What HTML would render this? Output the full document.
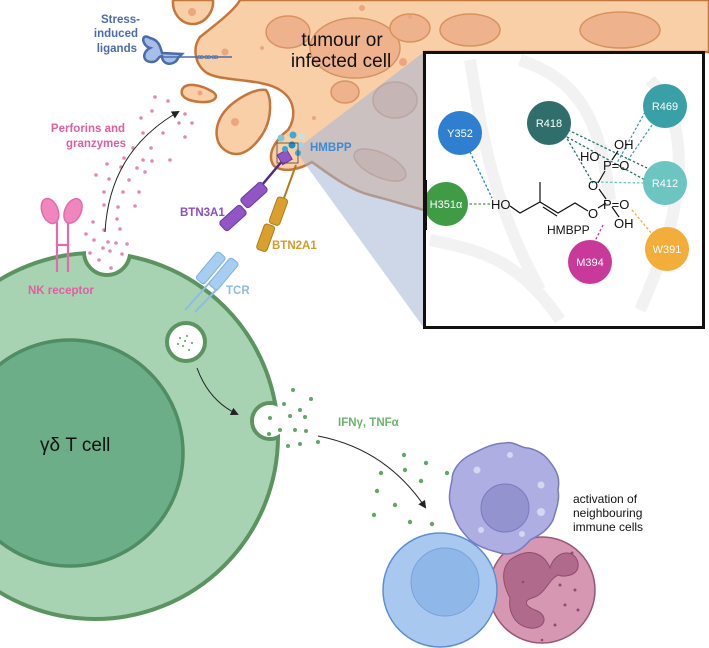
<!DOCTYPE html>
<html><head><meta charset="utf-8"><style>
html,body{margin:0;padding:0;background:#fff}
svg{display:block}
text{font-family:"Liberation Sans",sans-serif}
</style></head><body>
<svg width="709" height="648" viewBox="0 0 709 648" xmlns="http://www.w3.org/2000/svg">
<defs>
<marker id="ah" markerWidth="8" markerHeight="8" refX="6" refY="4" orient="auto" markerUnits="userSpaceOnUse"><path d="M0,0 L8,4 L0,8 Z" fill="#222"/></marker>
<clipPath id="cellclip"><circle cx="95" cy="436" r="185"/></clipPath>
</defs>

<!-- tumour cell -->
<g stroke="#c4773d" stroke-width="2.5" fill="#f8cfa6">
<path d="M173,0 C172,12 180,25 195,24 C207,22 214,10 213,0 Z"/>
<path d="M240,0 C235,10 215,25 200,37 C192,48 195,65 207,73 C222,82 262,78 280,90 C296,100 296,118 288,130 C275,140 266,155 274,166 C285,174 302,168 312,162 C330,175 350,190 370,195 C390,200 405,205 424,210 L424,52 L709,52 L709,0 Z"/>
<path d="M182,90 C185,82 200,84 213,92 C220,97 214,103 200,102 C188,101 180,97 182,90 Z"/>
<path d="M266,90 C272,98 272,120 262,135 C252,150 240,158 228,152 C214,145 214,128 222,115 C232,100 255,88 266,90 Z"/>
</g>
<g fill="#eeb38c" stroke="#d8925f" stroke-width="1.5">
<ellipse cx="288" cy="32" rx="22" ry="16"/>
<ellipse cx="355" cy="48" rx="45" ry="30"/>
<ellipse cx="345" cy="92" rx="14" ry="11"/>
<ellipse cx="410" cy="28" rx="20" ry="14"/>
<ellipse cx="470" cy="30" rx="30" ry="16"/>
<ellipse cx="620" cy="30" rx="40" ry="18"/>
<ellipse cx="395" cy="100" rx="22" ry="18"/>
<ellipse cx="380" cy="165" rx="28" ry="12" transform="rotate(25 380 165)"/>
</g>
<g fill="#eba67e">
<circle cx="192" cy="12" r="4"/><circle cx="225" cy="52" r="3.5"/><circle cx="235" cy="122" r="4"/>
<circle cx="262" cy="48" r="2"/><circle cx="314" cy="118" r="2"/><circle cx="362" cy="8" r="3"/><circle cx="410" cy="17" r="2"/><circle cx="403" cy="62" r="4"/>
<circle cx="200" cy="93" r="2.5"/>
</g>
<text x="342" y="46" font-size="19" fill="#111" text-anchor="middle">tumour or</text>
<text x="341" y="67" font-size="19" fill="#111" text-anchor="middle">infected cell</text>

<!-- wedge -->
<polygon points="295,150 424,52 424,328" fill="#a4b6d6" fill-opacity="0.55"/>

<!-- stress ligands -->
<text x="140" y="23" font-size="11.5" font-weight="bold" fill="#4a6cae" text-anchor="end">Stress-</text>
<text x="138" y="37" font-size="11.5" font-weight="bold" fill="#4a6cae" text-anchor="end">induced</text>
<text x="137" y="52" font-size="11.5" font-weight="bold" fill="#4a6cae" text-anchor="end">ligands</text>
<g fill="#a7bfe6" stroke="#4a6cae" stroke-width="2.5">
<path d="M150,38 C140,32 142,46 150,48 C142,52 142,62 152,62 C158,62 158,56 162,56 C162,66 175,66 178,58 L182,54 L162,53 C160,45 158,40 150,38 Z"/>
</g>
<line x1="158" y1="57" x2="232" y2="57" stroke="#4a6cae" stroke-width="1.5"/>
<text x="197" y="59" font-size="7" fill="#4a6cae">ꝏꝏꝏ</text>

<!-- T cell -->
<circle cx="95" cy="436" r="183" fill="#a8d3b3" stroke="#5b9460" stroke-width="4"/>
<circle cx="70" cy="453" r="113" fill="#6cae88" stroke="#4f8d62" stroke-width="3.5"/>
<g clip-path="url(#cellclip)">
<circle cx="107" cy="252" r="23" fill="#fff" stroke="#5b9460" stroke-width="4"/>
<circle cx="270" cy="421" r="18" fill="#fff" stroke="#5b9460" stroke-width="4"/>
</g>
<circle cx="107" cy="252" r="21" fill="#fff"/>
<circle cx="270" cy="421" r="16" fill="#fff"/>
<circle cx="186" cy="342" r="19" fill="#fff" stroke="#5b9460" stroke-width="4"/>
<g fill="#5a9a64"><circle cx="180" cy="338" r="1"/><circle cx="187" cy="336" r="1"/><circle cx="192" cy="343" r="1"/><circle cx="183" cy="346" r="1"/><circle cx="189" cy="350" r="1"/><circle cx="178" cy="344" r="1"/><circle cx="185" cy="341" r="1"/></g>
<text x="40" y="451" font-size="19" fill="#111">γδ T cell</text>

<!-- NK receptor -->
<g stroke="#e46aa8" stroke-width="2.2" fill="none">
<line x1="57" y1="222" x2="57" y2="272"/><line x1="68" y1="222" x2="68" y2="272"/><line x1="57" y1="245" x2="68" y2="245"/>
</g>
<g fill="#ef86bd" stroke="#e46aa8" stroke-width="1.5">
<ellipse cx="50" cy="211" rx="8" ry="13" transform="rotate(-20 50 211)"/>
<ellipse cx="73" cy="211" rx="8" ry="13" transform="rotate(25 73 211)"/>
</g>
<text x="28" y="294" font-size="11.5" font-weight="bold" fill="#e05fa0">NK receptor</text>
<text x="88" y="132" font-size="11.5" font-weight="bold" fill="#e05fa0" text-anchor="middle">Perforins and</text>
<text x="96" y="147" font-size="11.5" font-weight="bold" fill="#e05fa0" text-anchor="middle">granzymes</text>
<g fill="#e089b5">
<circle cx="155" cy="97" r="1.8"/><circle cx="168" cy="101" r="1.8"/><circle cx="152" cy="111" r="1.8"/><circle cx="185" cy="114" r="1.8"/><circle cx="192" cy="123" r="1.8"/><circle cx="179" cy="123" r="1.8"/><circle cx="185" cy="137" r="1.8"/><circle cx="141" cy="118" r="1.8"/><circle cx="143" cy="133" r="1.8"/><circle cx="163" cy="133" r="1.8"/><circle cx="133" cy="148" r="1.8"/><circle cx="151" cy="148" r="1.8"/><circle cx="124" cy="158" r="1.8"/><circle cx="143" cy="160" r="1.8"/><circle cx="152" cy="161" r="1.8"/><circle cx="170" cy="160" r="1.8"/><circle cx="107" cy="164" r="1.8"/><circle cx="121" cy="167" r="1.8"/><circle cx="137" cy="168" r="1.8"/><circle cx="145" cy="172" r="1.8"/><circle cx="96" cy="175" r="1.8"/><circle cx="109" cy="179" r="1.8"/><circle cx="129" cy="180" r="1.8"/><circle cx="104" cy="192" r="1.8"/><circle cx="123" cy="192" r="1.8"/><circle cx="139" cy="192" r="1.8"/><circle cx="104" cy="205" r="1.8"/><circle cx="118" cy="207" r="1.8"/><circle cx="135" cy="206" r="1.8"/><circle cx="117" cy="219" r="1.8"/><circle cx="93" cy="222" r="1.8"/><circle cx="86" cy="234" r="1.8"/><circle cx="104" cy="230" r="1.8"/><circle cx="120" cy="229" r="1.8"/><circle cx="94" cy="240" r="1.8"/><circle cx="108" cy="242" r="1.8"/><circle cx="116" cy="243" r="1.8"/><circle cx="127" cy="244" r="1.8"/><circle cx="103" cy="248" r="1.8"/><circle cx="110" cy="251" r="1.8"/><circle cx="90" cy="253" r="1.8"/><circle cx="122" cy="254" r="1.8"/><circle cx="99" cy="260" r="1.8"/><circle cx="111" cy="268" r="1.8"/>
</g>
<path d="M105,232 C108,180 130,140 178,112" fill="none" stroke="#222" stroke-width="1" marker-end="url(#ah)"/>

<!-- TCR -->
<g stroke="#8bbbe8" stroke-width="2" fill="none">
<line x1="185" y1="310" x2="212" y2="280"/><line x1="195" y1="312" x2="222" y2="284"/>
</g>
<g fill="#a7cdf1" stroke="#7fb0e2" stroke-width="1">
<rect x="205" y="250" width="11" height="35" rx="3" transform="rotate(40 210 268)"/>
<rect x="218" y="256" width="11" height="35" rx="3" transform="rotate(40 223 274)"/>
</g>
<text x="226" y="294" font-size="11.5" font-weight="bold" fill="#8bbbe8">TCR</text>

<!-- BTN2A1 -->
<line x1="296" y1="165" x2="284" y2="198" stroke="#b47a1d" stroke-width="2"/>
<g fill="#d9a02c" stroke="#b47a1d" stroke-width="1">
<rect x="273" y="197" width="11" height="28" rx="3" transform="rotate(20 278 211)"/>
<rect x="260" y="224" width="11" height="27" rx="3" transform="rotate(20 265 238)"/>
</g>
<text x="272" y="249" font-size="11.5" font-weight="bold" fill="#d49a2a">BTN2A1</text>

<!-- BTN3A1 -->
<line x1="283" y1="160" x2="262" y2="185" stroke="#4f2a80" stroke-width="2.5"/>
<g fill="#9255c6" stroke="#6a3a9e" stroke-width="1">
<rect x="279" y="152" width="11" height="11" transform="rotate(-30 284 157)"/>
<rect x="248" y="181" width="12" height="28" rx="3" transform="rotate(48 254 195)"/>
<rect x="227" y="204" width="12" height="28" rx="3" transform="rotate(48 233 218)"/>
</g>
<text x="180" y="216" font-size="11.5" font-weight="bold" fill="#8a4fc0">BTN3A1</text>

<!-- HMBPP dots -->
<g>
<circle cx="281" cy="138" r="3.5" fill="#7fc9d6"/><circle cx="293" cy="135" r="3.5" fill="#3aaad8"/><circle cx="302" cy="136" r="3" fill="#bfe3ea"/><circle cx="292" cy="145" r="3.5" fill="#1a8fc9"/><circle cx="301" cy="145" r="3" fill="#9fd3e6"/><circle cx="285" cy="149" r="3" fill="#39a7d6"/><circle cx="298" cy="153" r="3" fill="#3aaad8"/>
</g>
<rect x="277" y="143" width="21" height="20" fill="none" stroke="#444" stroke-width="0.8"/>
<text x="310" y="151" font-size="11.5" font-weight="bold" fill="#3b8bd6">HMBPP</text>

<!-- inset -->
<rect x="424.5" y="52.5" width="279" height="275" fill="#fff" stroke="#111" stroke-width="3"/>
<g fill="none" stroke="#f2f2f2" stroke-width="12">
<path d="M470,60 C480,120 490,200 540,290"/>
<path d="M520,60 C580,80 600,120 610,200"/>
<path d="M650,80 C690,120 690,200 640,310"/>
<path d="M430,240 C480,250 520,260 560,320"/>
</g>
<g stroke-width="1.3" stroke-dasharray="2.5,2" fill="none">
<line x1="470" y1="152" x2="492" y2="198" stroke="#2f7fd0"/>
<line x1="465" y1="204" x2="490" y2="204" stroke="#3f9c45"/>
<line x1="565" y1="135" x2="593" y2="183" stroke="#2f6e6a"/>
<line x1="568" y1="130" x2="647" y2="168" stroke="#2f6e6a"/>
<line x1="567" y1="137" x2="645" y2="180" stroke="#2f6e6a"/>
<line x1="645" y1="112" x2="617" y2="163" stroke="#3aa0a8"/>
<line x1="652" y1="125" x2="628" y2="160" stroke="#3aa0a8"/>
<line x1="644" y1="183" x2="594" y2="182" stroke="#6cc5c0"/>
<line x1="632" y1="210" x2="652" y2="234" stroke="#f2ad3a"/>
<line x1="603" y1="225" x2="594" y2="243" stroke="#c9399a"/>
</g>
<g font-size="11" fill="#fff" text-anchor="middle">
<circle cx="460" cy="133" r="22" fill="#2f7fd0"/><text x="460" y="137">Y352</text>
<circle cx="549" cy="123" r="22" fill="#2f6e6a"/><text x="549" y="127">R418</text>
<circle cx="665" cy="106" r="22" fill="#3aa0a8"/><text x="665" y="110">R469</text>
<circle cx="665" cy="183" r="22" fill="#6cc5c0"/><text x="665" y="187">R412</text>
<circle cx="446" cy="204" r="22" fill="#3f9c45"/><text x="446" y="208">H351α</text>
<circle cx="667" cy="249" r="22" fill="#f2ad3a"/><text x="667" y="253">W391</text>
<circle cx="590" cy="262" r="22" fill="#c9399a"/><text x="590" y="266">M394</text>
</g>
<rect x="424" y="180" width="3" height="50" fill="#111"/>
<g stroke="#111" stroke-width="1.2" fill="none">
<path d="M510,206 L520,213 L540,202 L558,213 L575,203 L588,211"/>
<line x1="540" y1="202" x2="540" y2="182"/>
<line x1="543" y1="207" x2="557" y2="216"/>
<line x1="598" y1="208" x2="606" y2="203"/>
<line x1="598" y1="183" x2="605" y2="171"/>
<line x1="599" y1="189" x2="606" y2="199"/>
<line x1="612" y1="207" x2="619" y2="217"/>
<line x1="612" y1="160" x2="618" y2="151"/>
</g>
<g font-size="13" fill="#111">
<text x="491" y="209">HO</text>
<text x="588" y="218">O</text>
<text x="603" y="209">P=O</text>
<text x="614" y="228">OH</text>
<text x="588" y="190">O</text>
<text x="603" y="170">P=O</text>
<text x="580" y="161">HO</text>
<text x="614" y="149">OH</text>
<text x="547" y="234" font-size="12">HMBPP</text>
</g>

<!-- IFN -->
<text x="338" y="426" font-size="11.5" font-weight="bold" fill="#6db36d">IFNγ, TNFα</text>
<g fill="#5fa867">
<circle cx="293" cy="390" r="2"/><circle cx="311" cy="399" r="2"/><circle cx="284" cy="404" r="2"/><circle cx="300" cy="410" r="2"/><circle cx="290" cy="416" r="2"/><circle cx="305" cy="417" r="2"/><circle cx="270" cy="418" r="2"/><circle cx="280" cy="430" r="2"/><circle cx="295" cy="430" r="2"/><circle cx="306" cy="431" r="2"/><circle cx="269" cy="434" r="2"/><circle cx="288" cy="446" r="2"/><circle cx="300" cy="444" r="2"/><circle cx="318" cy="442" r="2"/>
<circle cx="404" cy="455" r="2.2"/><circle cx="426" cy="463" r="2.2"/><circle cx="381" cy="473" r="2.2"/><circle cx="405" cy="470" r="2.2"/><circle cx="421" cy="481" r="2.2"/><circle cx="447" cy="473" r="2.2"/><circle cx="377" cy="491" r="2.2"/><circle cx="395" cy="505" r="2.2"/><circle cx="374" cy="515" r="2.2"/><circle cx="410" cy="522" r="2.2"/><circle cx="432" cy="524" r="2.2"/>
</g>
<path d="M197,368 C205,390 218,405 237,414" fill="none" stroke="#222" stroke-width="1" marker-end="url(#ah)"/>
<path d="M318,436 C365,445 400,470 425,507" fill="none" stroke="#222" stroke-width="1" marker-end="url(#ah)"/>

<!-- immune cells -->
<circle cx="542" cy="590" r="53" fill="#d597b2" stroke="#9a5474" stroke-width="1.5"/>
<path d="M510,560 C530,545 545,555 550,568 C555,550 575,548 578,563 C580,575 565,578 558,575 C548,580 545,595 532,598 C525,600 523,605 535,610 C550,615 545,630 530,628 C515,626 508,612 510,598 C503,585 500,570 510,560 Z" fill="#b06a8c" stroke="#8f4e6d" stroke-width="1"/>
<g fill="#8f4e6d"><circle cx="572" cy="553" r="1.5"/><circle cx="560" cy="585" r="1.5"/><circle cx="575" cy="590" r="1.5"/><circle cx="565" cy="605" r="1.5"/><circle cx="578" cy="610" r="1.5"/><circle cx="555" cy="625" r="1.5"/><circle cx="542" cy="640" r="1.3"/><circle cx="523" cy="582" r="1.3"/></g>
<circle cx="440" cy="590" r="57" fill="#a9c8ef" stroke="#5d8fd0" stroke-width="1.5"/>
<circle cx="445" cy="582" r="34" fill="#8fb7e8" stroke="#77a3dc" stroke-width="1"/>
<path d="M505,443 C515,441 520,448 528,448 C538,450 545,455 550,462 C558,472 560,480 558,490 C560,500 556,510 553,520 C548,530 540,535 530,540 C520,552 510,556 500,553 C490,550 480,548 470,540 C462,532 455,522 453,512 C447,500 450,490 452,480 C452,470 460,460 470,455 C480,450 492,443 505,443 Z" fill="#aeaee2" stroke="#7a7ac0" stroke-width="1.5"/>
<circle cx="505" cy="508" r="24" fill="#9393cf" stroke="#7a7ac0" stroke-width="1"/>
<g fill="#d6d6f2"><circle cx="477" cy="470" r="3.5"/><circle cx="510" cy="455" r="3"/><circle cx="541" cy="485" r="3.5"/><circle cx="541" cy="512" r="4"/><circle cx="522" cy="534" r="3"/><circle cx="481" cy="530" r="3"/></g>
<text x="573" y="503" font-size="12" fill="#111">activation of</text>
<text x="573" y="517" font-size="12" fill="#111">neighbouring</text>
<text x="573" y="531" font-size="12" fill="#111">immune cells</text>
</svg>
</body></html>
